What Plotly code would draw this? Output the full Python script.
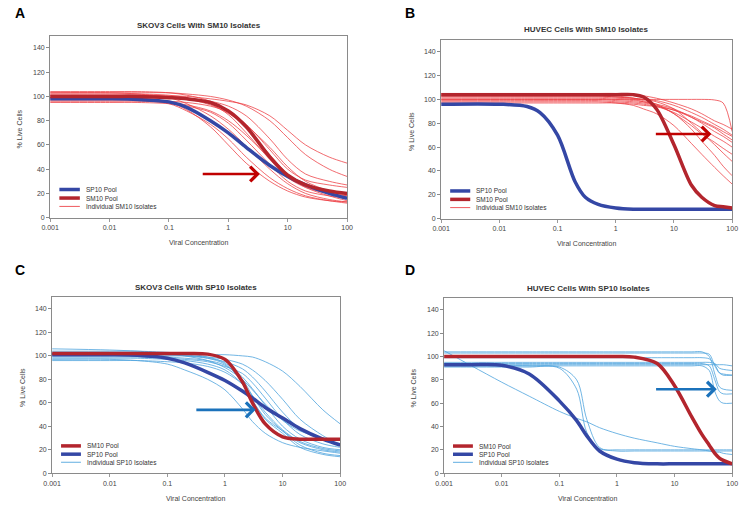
import math
import plotly.graph_objects as go

FONT = "Liberation Sans"

# ---------------- Data ----------------
# Panel A: SKOV3 cells with SM10 isolates
A_x = [0.001, 0.01, 0.03, 0.1, 0.2, 0.5, 1, 2, 5, 10, 20, 50, 100]
A_sp10_pool = [98, 98, 97.5, 95.5, 91, 80, 70, 58, 43, 34, 27, 20, 16]
A_sm10_pool = [100, 100, 100, 99, 98, 95, 88, 75, 50, 35, 27, 22, 20]
A_isolates = [
    [101, 101, 101, 100.5, 100, 98, 96, 93, 84, 72, 60, 50, 45],
    [103, 103, 103, 103, 102, 100, 97, 92, 80, 66, 52, 40, 34],
    [99, 99, 99, 99, 98, 96, 92, 84, 65, 48, 36, 30, 27],
    [97, 97, 97, 96, 95, 92, 87, 77, 56, 40, 31, 27, 25],
    [104, 104, 104, 103, 101, 96, 88, 74, 52, 36, 27, 22, 20],
    [102, 102, 102, 101, 99, 94, 85, 70, 48, 33, 25, 20, 18],
    [95, 95, 95, 94, 92, 87, 78, 64, 44, 30, 22, 18, 16],
    [100, 100, 99, 95, 89, 75, 60, 45, 30, 22, 17, 14, 13],
    [98, 98, 97, 94, 88, 77, 65, 50, 33, 24, 18, 14, 12],
    [103, 103, 102, 99, 94, 84, 73, 59, 40, 28, 20, 15, 13],
    [96, 96, 96, 95, 93, 88, 80, 68, 49, 35, 25, 18, 14],
    [101, 101, 101, 100, 98, 93, 86, 76, 58, 42, 30, 22, 18],
]

# Panel B: HUVEC cells with SM10 isolates
B_x = [0.001, 0.01, 0.03, 0.05, 0.1, 0.2, 0.3, 0.5, 1, 2, 3, 5, 10, 20, 30, 50, 70, 100]
B_sp10_pool = [96, 96, 94, 89, 70, 31, 18, 12, 9, 8, 8, 8, 8, 8, 8, 8, 8, 8]
B_sm10_pool = [104, 104, 104, 104, 104, 104, 104, 104, 104, 104, 102, 92, 62, 28, 18, 11, 10, 9]
B_isolates = [
    [100, 100, 100, 100, 100, 100, 100, 100, 100, 100, 100, 100, 100, 100, 100, 99.5, 97, 73],
    [105, 105, 105, 105, 105, 105, 105, 105, 105, 104, 103, 101, 97, 92, 88, 82, 79, 75],
    [103, 103, 103, 103, 103, 103, 103, 103, 102, 101, 100, 99, 95, 89, 85, 79, 75, 70],
    [101, 101, 101, 101, 101, 101, 101, 101, 100, 99, 98, 96, 92, 85, 80, 73, 69, 64],
    [99, 99, 99, 99, 99, 99, 99, 99, 98, 97, 96, 94, 89, 81, 76, 69, 65, 60],
    [104, 104, 104, 104, 104, 104, 104, 104, 103, 101, 99, 96, 88, 78, 71, 64, 59, 54],
    [98, 98, 98, 98, 98, 98, 98, 98, 97, 95, 92, 88, 78, 63, 54, 43, 36, 29],
    [102, 102, 102, 102, 102, 102, 102, 102, 101, 100, 98, 95, 88, 75, 65, 53, 44, 36],
    [100, 100, 100, 100, 100, 100, 100, 100, 99, 98, 97, 95, 91, 85, 81, 76, 71, 66],
    [97, 97, 97, 97, 97, 97, 97, 97, 97, 96, 95, 94, 91, 86, 82, 77, 73, 69],
    [103, 103, 103, 103, 103, 103, 103, 103, 102, 101, 100, 98, 92, 80, 72, 62, 55, 48],
]

# Panel C: SKOV3 cells with SP10 isolates
C_x = [0.001, 0.01, 0.03, 0.1, 0.2, 0.5, 1, 2, 3, 5, 10, 20, 50, 100]
C_sm10_pool = [102, 102, 102, 102, 102, 101.5, 97, 78, 60, 42, 31, 29, 29, 29]
C_sp10_pool = [101, 101, 100.5, 98, 94, 86, 79, 70, 64, 56, 47, 38, 29, 24]
C_isolates = [
    [101, 101, 101, 101, 101, 101, 101, 100, 99, 95, 87, 74, 54, 42],
    [97, 97, 96, 93, 88, 80, 71, 55, 44, 34, 26, 22, 19, 17],
    [104, 104, 104, 103, 102, 99, 94, 82, 72, 58, 40, 29, 22, 20],
    [106, 105, 104, 102, 100, 96, 90, 80, 71, 59, 45, 36, 30, 28],
    [100, 100, 100, 99, 98, 96, 92, 80, 66, 50, 36, 24, 17, 15],
    [98, 98, 98, 97, 96, 93, 88, 76, 62, 47, 36, 26, 20, 18],
    [102, 102, 102, 101, 100, 98, 95, 89, 82, 70, 52, 38, 29, 25],
    [99, 99, 99, 98, 97, 95, 91, 85, 77, 64, 46, 33, 25, 22],
    [103, 103, 103, 102, 101, 98, 93, 78, 62, 46, 34, 22, 16, 14],
    [96, 96, 96, 95, 94, 91, 86, 76, 66, 52, 37, 27, 21, 19],
    [101, 101, 101, 100, 100, 99, 97, 93, 88, 79, 63, 46, 32, 24],
]

# Panel D: HUVEC cells with SP10 isolates
D_x = [0.001, 0.003, 0.01, 0.03, 0.1, 0.2, 0.3, 0.5, 1, 2, 5, 10, 20, 30, 40, 50, 60, 70, 100]
D_sm10_pool = [100, 100, 100, 100, 100, 100, 100, 100, 100, 99.5, 94, 75, 48, 33, 24, 17, 13, 11, 8]
D_sp10_pool = [93, 93, 92.5, 85, 62, 45, 32, 19, 12, 9, 8, 8, 8, 8, 8, 8, 8, 8, 8]
D_isolates = [
    [105, 92, 78, 66, 53, 47, 44, 39, 34, 30, 26, 23, 21, 20, 19, 18, 18, 17, 16],
    [92, 92, 92, 92, 90, 72, 35, 21, 20, 20, 20, 20, 20, 20, 20, 20, 20, 20, 20],
    [91, 91, 91, 91, 91, 80, 46, 22, 19, 19, 19, 19, 19, 19, 19, 19, 19, 19, 19],
    [104, 104, 104, 104, 104, 104, 104, 104, 104, 104, 104, 104, 104, 104, 100, 85, 74, 72, 71],
    [103, 103, 103, 103, 103, 103, 103, 103, 103, 103, 103, 103, 103, 103, 102, 92, 86, 85, 84],
    [95, 95, 95, 95, 95, 95, 95, 95, 95, 95, 95, 95, 95, 95, 95, 94, 90, 89, 88],
    [93, 93, 93, 93, 93, 93, 93, 93, 93, 93, 93, 93, 93, 93, 93, 93, 93, 93, 92],
    [92, 92, 92, 92, 92, 92, 92, 92, 92, 92, 92, 92, 92, 92, 88, 70, 62, 60, 60],
    [94, 94, 94, 94, 94, 94, 94, 94, 94, 94, 94, 94, 94, 94, 92, 80, 70, 68, 68],
    [99, 99, 99, 99, 99, 99, 99, 99, 99, 99, 99, 99, 99, 99, 98, 93, 86, 84, 84],
]

x_tick_vals = [0.001, 0.01, 0.1, 1, 10, 100]
x_tick_text = ["0.001", "0.01", "0.1", "1", "10", "100"]
y_tick_vals = [0, 20, 40, 60, 80, 100, 120, 140]

titles = ["SKOV3 Cells With SM10 Isolates", "HUVEC Cells With SM10 Isolates",
          "SKOV3 Cells With SP10 Isolates", "HUVEC Cells With SP10 Isolates"]
letters = ["A", "B", "C", "D"]

# ---------------- Styling ----------------
BLUE_POOL = "#3447a5"
RED_POOL = "#b3252d"
RED_THIN = "rgba(236,60,66,0.85)"
BLUE_THIN = "rgba(80,165,222,0.9)"
ARROW_RED = "#c00000"
ARROW_BLUE = "#1b72bb"

W, H = 747, 505
# plot-area pixel boxes (left, top, right, bottom)
boxes = [(42, 36, 345, 219), (441, 40, 738, 220), (44, 299, 338, 476), (444, 300, 738, 476)]

panels = [
    dict(x=A_x, iso=A_isolates, sp=A_sp10_pool, sm=A_sm10_pool, iso_color=RED_THIN,
         legend=[("SP10 Pool", BLUE_POOL, 3.5), ("SM10 Pool", RED_POOL, 3.5), ("Individual SM10 Isolates", RED_THIN, 1)],
         arrow=(0.35, 3.4, 36), arrow_color=ARROW_RED),
    dict(x=B_x, iso=B_isolates, sp=B_sp10_pool, sm=B_sm10_pool, iso_color=RED_THIN,
         legend=[("SP10 Pool", BLUE_POOL, 3.5), ("SM10 Pool", RED_POOL, 3.5), ("Individual SM10 Isolates", RED_THIN, 1)],
         arrow=(4.6, 44, 71), arrow_color=ARROW_RED),
    dict(x=C_x, iso=C_isolates, sp=C_sp10_pool, sm=C_sm10_pool, iso_color=BLUE_THIN,
         legend=[("SM10 Pool", RED_POOL, 3.5), ("SP10 Pool", BLUE_POOL, 3.5), ("Individual SP10 Isolates", BLUE_THIN, 1)],
         arrow=(0.3, 3.4, 54), arrow_color=ARROW_BLUE),
    dict(x=D_x, iso=D_isolates, sp=D_sp10_pool, sm=D_sm10_pool, iso_color=BLUE_THIN,
         legend=[("SM10 Pool", RED_POOL, 3.5), ("SP10 Pool", BLUE_POOL, 3.5), ("Individual SP10 Isolates", BLUE_THIN, 1)],
         arrow=(4.5, 54, 72), arrow_color=ARROW_BLUE),
]

fig = go.Figure()
layout = dict(
    width=W, height=H, margin=dict(l=0, r=0, t=0, b=0),
    paper_bgcolor="white", plot_bgcolor="white", showlegend=False,
    font=dict(family=FONT, size=7, color="#444"),
)
annotations = []
shapes = []

for i, p in enumerate(panels):
    n = "" if i == 0 else str(i + 1)
    xa, ya = "x" + n, "y" + n
    l, t, r, b = boxes[i]
    xdom = [l / W, r / W]
    ydom = [1 - b / H, 1 - t / H]
    layout["xaxis" + n] = dict(
        domain=xdom, anchor=ya, type="log", range=[-3, 2],
        tickvals=x_tick_vals, ticktext=x_tick_text,
        showline=True, mirror=True, linecolor="#8a8a8a", linewidth=1,
        ticks="outside", ticklen=3, tickcolor="#9a9a9a",
        tickfont=dict(family=FONT, size=7, color="#444"),
        showgrid=False, zeroline=False,
    )
    layout["yaxis" + n] = dict(
        domain=ydom, anchor=xa, range=[0, 150],
        tickvals=y_tick_vals, showline=True, mirror=True, linecolor="#8a8a8a", linewidth=1,
        ticks="outside", ticklen=3, tickcolor="#8a8a8a",
        tickfont=dict(family=FONT, size=7, color="#444"),
        showgrid=False, zeroline=False,
    )
    for vals in p["iso"]:
        fig.add_trace(go.Scatter(x=p["x"], y=vals, mode="lines", xaxis=xa, yaxis=ya,
                                 line=dict(color=p["iso_color"], width=0.9, shape="spline", smoothing=0.9),
                                 hoverinfo="skip"))
    fig.add_trace(go.Scatter(x=p["x"], y=p["sp"], mode="lines", xaxis=xa, yaxis=ya,
                             line=dict(color=BLUE_POOL, width=3.5, shape="spline", smoothing=0.9)))
    fig.add_trace(go.Scatter(x=p["x"], y=p["sm"], mode="lines", xaxis=xa, yaxis=ya,
                             line=dict(color=RED_POOL, width=3.5, shape="spline", smoothing=0.9)))

    cx = (l + r) / 2
    annotations.append(dict(text="<b>" + titles[i] + "</b>", xref="paper", yref="paper",
                            x=cx / W, y=1 - (t - 10) / H, xanchor="center", yanchor="middle",
                            showarrow=False, font=dict(family=FONT, size=8, color="#333")))
    lx = 4 if i % 2 == 0 else 402
    ly = 13 if i < 2 else 272
    annotations.append(dict(text="<b>" + letters[i] + "</b>", xref="paper", yref="paper",
                            x=lx / W, y=1 - ly / H, xanchor="left", yanchor="middle",
                            showarrow=False, font=dict(family=FONT, size=14, color="black")))
    annotations.append(dict(text="Viral Concentration", xref="paper", yref="paper",
                            x=cx / W, y=1 - (b + 25) / H, xanchor="center", yanchor="middle",
                            showarrow=False, font=dict(family=FONT, size=7, color="#444")))
    annotations.append(dict(text="% Live Cells", xref="paper", yref="paper",
                            x=(l - 31) / W, y=1 - ((t + b) / 2 + 2) / H, xanchor="center", yanchor="middle",
                            textangle=-90, showarrow=False, font=dict(family=FONT, size=7, color="#444")))
    x0, x1, yv = p["arrow"]
    annotations.append(dict(x=math.log10(x1), y=yv, ax=math.log10(x0), ay=yv,
                            xref=xa, yref=ya, axref=xa, ayref=ya, text="",
                            showarrow=True, arrowhead=4, arrowsize=1.1, arrowwidth=2.6,
                            arrowcolor=p["arrow_color"]))
    ys = [0.155, 0.108, 0.062]
    for (lab, col, wd), yy in zip(p["legend"], ys):
        shapes.append(dict(type="line", xref=xa + " domain", yref=ya + " domain",
                           x0=0.031, x1=0.10, y0=yy, y1=yy, line=dict(color=col, width=wd)))
        annotations.append(dict(text=lab, xref=xa + " domain", yref=ya + " domain",
                                x=0.113, y=yy, xanchor="left", yanchor="middle", showarrow=False,
                                font=dict(family=FONT, size=6.5, color="#333")))

layout["annotations"] = annotations
layout["shapes"] = shapes
fig.update_layout(**layout)
fig.write_html("out.html", config={"displayModeBar": False},
               post_script="document.body.style.margin='0';")
